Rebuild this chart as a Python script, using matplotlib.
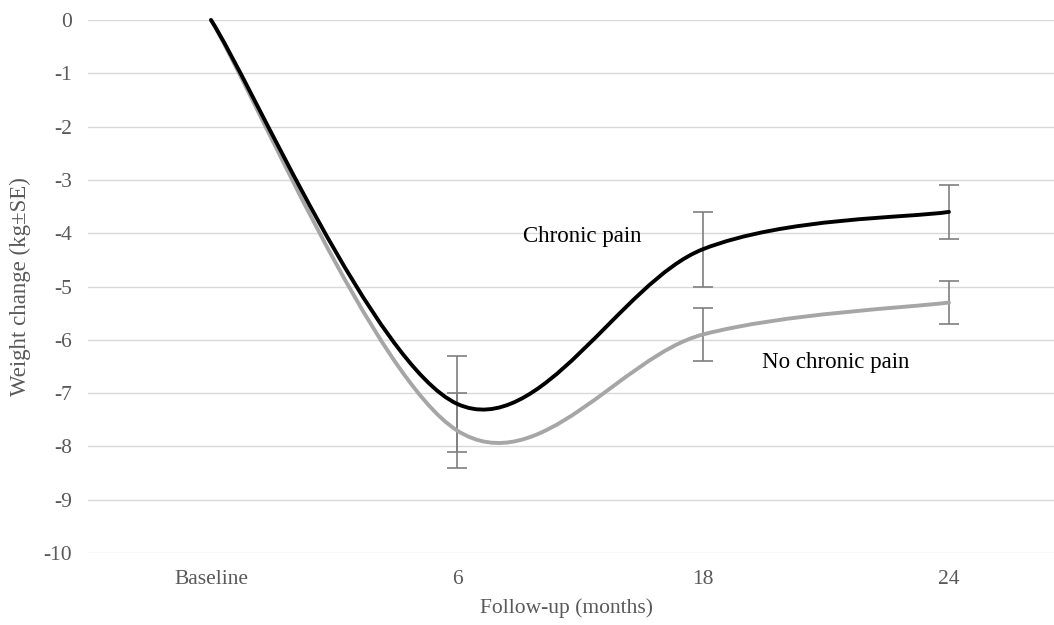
import numpy as np
import matplotlib
matplotlib.use("Agg")
import matplotlib.pyplot as plt
from matplotlib.path import Path
from matplotlib.patches import PathPatch

categories = ["Baseline", "6", "18", "24"]
chronic = [0, -7.2, -4.3, -3.6]
chronic_se = [0, 0.9, 0.7, 0.5]
no_chronic = [0, -7.7, -5.9, -5.3]
no_chronic_se = [0, 0.7, 0.5, 0.4]

plt.rcParams['font.family'] = ['Liberation Serif', 'DejaVu Serif']
plt.rcParams['axes.unicode_minus'] = False
txt = '#595959'


def smooth_path(xs, ys):
    # Excel-like smoothed line: cubic Bezier with Catmull-Rom control points
    pts = np.column_stack([xs, ys]).astype(float)
    n = len(pts)
    verts = [pts[0]]
    codes = [Path.MOVETO]
    for i in range(n - 1):
        p0 = pts[max(i - 1, 0)]
        p1 = pts[i]
        p2 = pts[i + 1]
        p3 = pts[min(i + 2, n - 1)]
        c1 = p1 + (p2 - p0) / 6
        c2 = p2 - (p3 - p1) / 6
        verts += [c1, c2, p2]
        codes += [Path.CURVE4] * 3
    return Path(verts, codes)


fig = plt.figure(figsize=(10.54, 6.25), dpi=100)
ax = fig.add_axes([88 / 1054, 1 - 553 / 625, 1 - 88 / 1054, 533 / 625])
x = np.arange(len(categories))

ax.errorbar(x[1:], chronic[1:], yerr=chronic_se[1:], fmt='none', ecolor='#7f7f7f',
            elinewidth=1.2, capsize=7.5, capthick=1.2, zorder=2)
ax.errorbar(x[1:], no_chronic[1:], yerr=no_chronic_se[1:], fmt='none', ecolor='#7f7f7f',
            elinewidth=1.2, capsize=7.5, capthick=1.2, zorder=2)

ax.add_patch(PathPatch(smooth_path(x, no_chronic), fill=False, edgecolor='#a6a6a6',
                       lw=2.8, zorder=3, clip_on=False, capstyle='round'))
ax.add_patch(PathPatch(smooth_path(x, chronic), fill=False, edgecolor='black',
                       lw=2.8, zorder=4, clip_on=False, capstyle='round'))

ax.set_xlim(-0.5, 3.427)
ax.set_ylim(-10, 0)
ax.set_yticks(range(-10, 1))
ax.set_xticks(x)
ax.set_xticklabels(categories)
ax.grid(axis='y', color='#d9d9d9', lw=1)
ax.set_axisbelow(True)
for s in ax.spines.values():
    s.set_visible(False)
ax.tick_params(length=0, labelsize=15.5, labelcolor=txt)
ax.tick_params(axis='y', pad=11.5)
ax.tick_params(axis='x', pad=12)

ax.set_xlabel("Follow-up (months)", fontsize=15.5, color=txt, va='center', ha='center')
ax.xaxis.set_label_coords(0.495, -0.103)
ax.set_ylabel("Weight change (kg±SE)", fontsize=16.5, color=txt, va='center', ha='center')
ax.yaxis.set_label_coords(-0.0704, 0.5)

ax.text(1.51, -4.07, "Chronic pain", fontsize=16.5, ha='center', va='center')
ax.text(2.54, -6.43, "No chronic pain", fontsize=16.5, ha='center', va='center')

fig.savefig("out.png", dpi=100)
